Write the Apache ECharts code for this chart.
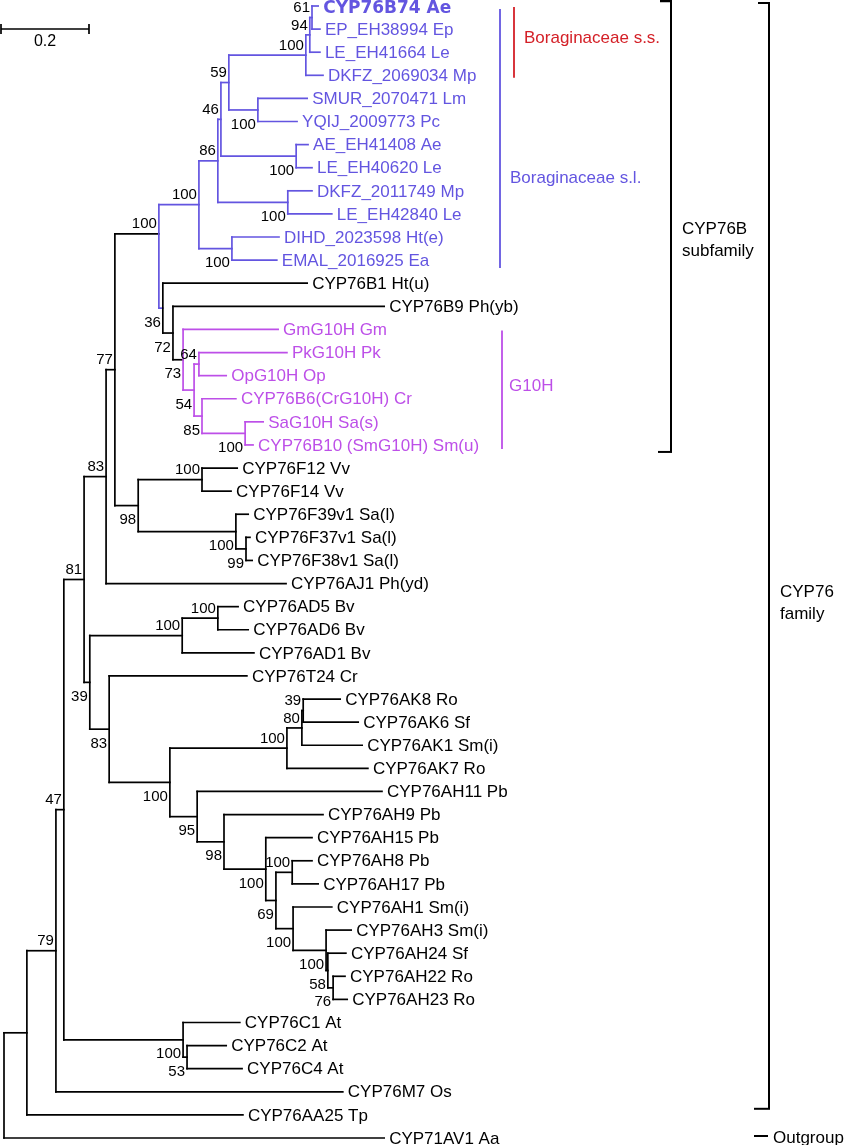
<!DOCTYPE html>
<html><head><meta charset="utf-8">
<script src="https://cdn.jsdelivr.net/npm/echarts/dist/echarts.min.js"></script>
<style>html,body{margin:0;padding:0;background:#fff}#c{width:846px;height:1145px}</style>
</head><body><div id="c"></div><script>
// ---------- DATA ----------
const leafNames = [
 'CYP76B74 Ae','EP_EH38994 Ep','LE_EH41664 Le','DKFZ_2069034 Mp','SMUR_2070471 Lm','YQIJ_2009773 Pc',
 'AE_EH41408 Ae','LE_EH40620 Le','DKFZ_2011749 Mp','LE_EH42840 Le','DIHD_2023598 Ht(e)','EMAL_2016925 Ea',
 'CYP76B1 Ht(u)','CYP76B9 Ph(yb)','GmG10H Gm','PkG10H Pk','OpG10H Op','CYP76B6(CrG10H) Cr','SaG10H Sa(s)',
 'CYP76B10 (SmG10H) Sm(u)','CYP76F12 Vv','CYP76F14 Vv','CYP76F39v1 Sa(l)','CYP76F37v1 Sa(l)','CYP76F38v1 Sa(l)',
 'CYP76AJ1 Ph(yd)','CYP76AD5 Bv','CYP76AD6 Bv','CYP76AD1 Bv','CYP76T24 Cr','CYP76AK8 Ro','CYP76AK6 Sf',
 'CYP76AK1 Sm(i)','CYP76AK7 Ro','CYP76AH11 Pb','CYP76AH9 Pb','CYP76AH15 Pb','CYP76AH8 Pb','CYP76AH17 Pb',
 'CYP76AH1 Sm(i)','CYP76AH3 Sm(i)','CYP76AH24 Sf','CYP76AH22 Ro','CYP76AH23 Ro','CYP76C1 At','CYP76C2 At',
 'CYP76C4 At','CYP76M7 Os','CYP76AA25 Tp','CYP71AV1 Aa'];
// cumulative branch length (distance from root) of each tip
const leafDepths = [
 .714,.718,.718,.725,.689,.666,.691,.700,.700,.745,.625,.620,
 .689,.864,.623,.643,.505,.527,.589,.566,.530,.516,.555,.559,.564,.641,
 .532,.555,.568,.552,.764,.805,.814,.827,.859,.725,.700,.700,.714,.745,
 .789,.777,.775,.780,.536,.505,.541,.770,.543,.864];
const leafParents = [
 'N61','N61','N94','N100a','NSY','NSY','NAL','NAL','NDL','NDL','NDE','NDE',
 'N36','N72','N73','N64','N64','N85','NSS','NSS','NF12','NF12','NF39','N99','N99','N83',
 'NAD56','NAD56','NAD','N83b','N39k','N39k','N80','N100k','N95','N98b','N100h','N100e','N100e','N100i',
 'N100j','N58','N76','N76','NC','N53','N53','N79','NAA','R'];
const nodeIds = ['R','NAA','N79','N47','N81','N83','N77','X','Bor','N86','N46','N59','N100a','N94','N61',
 'NSY','NAL','NDL','NDE','N36','N72','N73','N54','N64','N85','NSS','N98','NF12','NF39','N99',
 'N39','NAD','NAD56','N83b','N100c','N100k','N80','N39k','N95','N98b','N100h','N69','N100e','N100i',
 'N100j','N58','N76','NC','N53'];
const nodeParents = [null,'R','NAA','N79','N47','N81','N83','N77','X','Bor','N86','N46','N59','N100a','N94',
 'N59','N46','N86','Bor','X','N36','N72','N73','N54','N54','N85','N77','N98','N98','NF39',
 'N81','N39','NAD','N39','N83b','N100c','N100k','N80','N100c','N95','N98b','N100h','N69','N69',
 'N100i','N100j','N58','N47','NC'];
const nodeDepths = [0,.052,.118,.136,.182,.232,.252,.352,.443,.486,.493,.511,.686,.695,.700,
 .577,.664,.645,.518,.361,.384,.407,.432,.443,.450,.548,.305,.450,.527,.550,
 .195,.405,.486,.239,.377,.643,.677,.680,.439,.500,.595,.618,.655,.657,
 .732,.736,.748,.407,.416];
const nodeSupport = ['','','79','47','81','83','77','100','100','86','46','59','100','94','61',
 '100','100','100','100','36','72','73','54','64','85','100','98','100','100','99',
 '39','100','100','83','100','100','80','39','95','98','100','69','100','100',
 '100','58','76','100','53'];
const supportBelow = ['NSY','NAL','NDL','NDE','N36','N72','N73','N54','N85','NSS','N98','NF39','N99',
 'N39','N83b','N100c','N95','N98b','N100h','N69','N100i','N100j','N58','N76','NC','N53'];
const attachOverride = {X: 9.86};      // leaf-index position where the parent branch joins node X
const scaleBarLength = [0.2];
const scaleBarLabel = ['0.2'];
const cladeColor = {Bor: 'b', N73: 'm'};
const singleNodeColor = {X: 'b'};

// ---------- TREE LAYOUT (data space) ----------
const PAL = {k: '#000000', b: '#6355e0', m: '#bd4fe8', r: '#d42027'};
const nodes = {};
nodeIds.forEach((id, k) => nodes[id] = {id, depth: nodeDepths[k], support: nodeSupport[k], parentId: nodeParents[k], children: []});
leafNames.forEach((n, i) => nodes[leafParents[i]].children.push({leaf: true, y: i, depth: leafDepths[i]}));
nodeIds.forEach((id, k) => { if (nodeParents[k]) nodes[nodeParents[k]].children.push(nodes[id]); });
function place(n) {
  if (n.leaf) return n.y;
  const ys = n.children.map(place);
  n.lo = Math.min(...ys); n.hi = Math.max(...ys);
  n.y = (n.id in attachOverride) ? attachOverride[n.id] : (n.lo + n.hi) / 2;
  return n.y;
}
place(nodes.R);
function colorOf(n) {
  if (singleNodeColor[n.id]) return singleNodeColor[n.id];
  let c = n;
  while (c) { if (cladeColor[c.id]) return cladeColor[c.id]; c = c.parentId ? nodes[c.parentId] : null; }
  return 'k';
}
const segments = [];
const supports = [];
nodeIds.forEach(id => {
  const n = nodes[id]; const col = colorOf(n);
  segments.push([n.depth, n.lo, n.depth, n.hi, col]);
  n.children.forEach(c => segments.push([n.depth, c.y, c.depth, c.y, col]));
  if (n.support) supports.push([n.depth, n.y, n.support, supportBelow.includes(id) ? 1 : 0]);
});
const leafColor = i => i <= 11 ? PAL.b : (i >= 14 && i <= 19 ? PAL.m : PAL.k);

// ---------- CHART ----------
const chart = echarts.init(document.getElementById('c'), null, {renderer: 'canvas'});
const FONT = '"Liberation Sans", Arial, Helvetica, sans-serif';
chart.setOption({
  animation: false,
  backgroundColor: '#ffffff',
  grid: {left: 4, right: 6, top: 6, bottom: 7},
  xAxis: {type: 'value', min: 0, max: 1.9, show: false},
  yAxis: {type: 'value', min: 0, max: 49, inverse: true, show: false},
  series: [
    { // branches
      type: 'custom', clip: false, data: segments.map(s => [s[0], s[1], s[2], s[3]]),
      encode: {x: [0, 2], y: [1, 3]},
      renderItem(params, api) {
        const s = segments[params.dataIndex];
        const a = api.coord([s[0], s[1]]), b = api.coord([s[2], s[3]]);
        return {type: 'line', shape: {x1: a[0], y1: a[1], x2: b[0], y2: b[1]},
          style: {stroke: PAL[s[4]], lineWidth: 1.7, lineCap: 'square'}};
      }
    },
    { // tip labels
      type: 'custom', clip: false, data: leafNames.map((n, i) => [leafDepths[i], i]),
      renderItem(params, api) {
        const i = params.dataIndex;
        const p = api.coord([api.value(0), api.value(1)]);
        const bold = i === 0;
        return {type: 'text', x: p[0] + 5, y: p[1] + (bold ? 3 : 1),
          style: {text: leafNames[i], fill: leafColor(i),
            font: bold ? 'bold 17px "DejaVu Sans", Verdana, sans-serif' : '17px ' + FONT,
            align: 'left', verticalAlign: 'middle'}};
      }
    },
    { // bootstrap values
      type: 'custom', clip: false, data: supports.map(s => [s[0], s[1]]),
      renderItem(params, api) {
        const s = supports[params.dataIndex];
        const p = api.coord([s[0], s[1]]);
        return {type: 'text', x: p[0] - 2, y: s[3] ? p[1] + 7 : p[1] - 2,
          style: {text: s[2], fill: '#000', font: '15px ' + FONT, align: 'right',
            verticalAlign: s[3] ? 'top' : 'bottom'}};
      }
    },
    { // scale bar
      type: 'custom', clip: false, data: [[0, 0]],
      renderItem(params, api) {
        const x0 = api.coord([0, 0])[0] - 3;
        const len = api.coord([scaleBarLength[0], 0])[0] - api.coord([0, 0])[0];
        const y = 29;
        const st = {stroke: '#000', lineWidth: 1.7};
        return {type: 'group', children: [
          {type: 'line', shape: {x1: x0, y1: y, x2: x0 + len, y2: y}, style: st},
          {type: 'line', shape: {x1: x0, y1: y - 5, x2: x0, y2: y + 5}, style: st},
          {type: 'line', shape: {x1: x0 + len, y1: y - 5, x2: x0 + len, y2: y + 5}, style: st},
          {type: 'text', x: x0 + len / 2, y: y + 13, style: {text: scaleBarLabel[0], fill: '#000', font: '16px ' + FONT, align: 'center', verticalAlign: 'middle'}}
        ]};
      }
    },
    { // clade annotations
      type: 'custom', clip: false, data: [[0, 0]],
      renderItem(params, api) {
        const Y = i => api.coord([0, i])[1];
        const ln = (x1, y1, x2, y2, c, w) => ({type: 'line', shape: {x1, y1, x2, y2}, style: {stroke: c, lineWidth: w}});
        const tx = (x, y, t, c) => ({type: 'text', x, y, style: {text: t, fill: c, font: '17px ' + FONT, align: 'left', verticalAlign: 'middle'}});
        return {type: 'group', children: [
          ln(514, Y(0) + 1, 514, Y(3) + 2.5, PAL.r, 1.8),
          tx(524, Y(1.4), 'Boraginaceae s.s.', PAL.r),
          ln(500, Y(0) + 3, 500, Y(11) + 8, PAL.b, 1.8),
          tx(510, Y(7.48), 'Boraginaceae s.l.', PAL.b),
          ln(502, Y(14) + 1, 502, Y(19) + 4, PAL.m, 1.8),
          tx(509, Y(16.45), 'G10H', PAL.m),
          ln(671, Y(0) - 5, 671, Y(19) + 7, '#000', 2),
          ln(660, Y(0) - 5, 672, Y(0) - 5, '#000', 2.5),
          ln(658, Y(19) + 7, 672, Y(19) + 7, '#000', 2),
          tx(682, Y(9.65), 'CYP76B', '#000'),
          tx(682, Y(10.6), 'subfamily', '#000'),
          ln(769, Y(0) - 3, 769, Y(47) + 17, '#000', 2),
          ln(758, Y(0) - 3, 770, Y(0) - 3, '#000', 2),
          ln(754, Y(47) + 17, 770, Y(47) + 17, '#000', 2),
          tx(780, Y(25.4), 'CYP76', '#000'),
          tx(780, Y(26.35), 'family', '#000'),
          ln(754, Y(49) - 2, 768, Y(49) - 2, '#000', 2),
          tx(773, Y(49), 'Outgroup', '#000')
        ]};
      }
    }
  ]
});
</script></body></html>
